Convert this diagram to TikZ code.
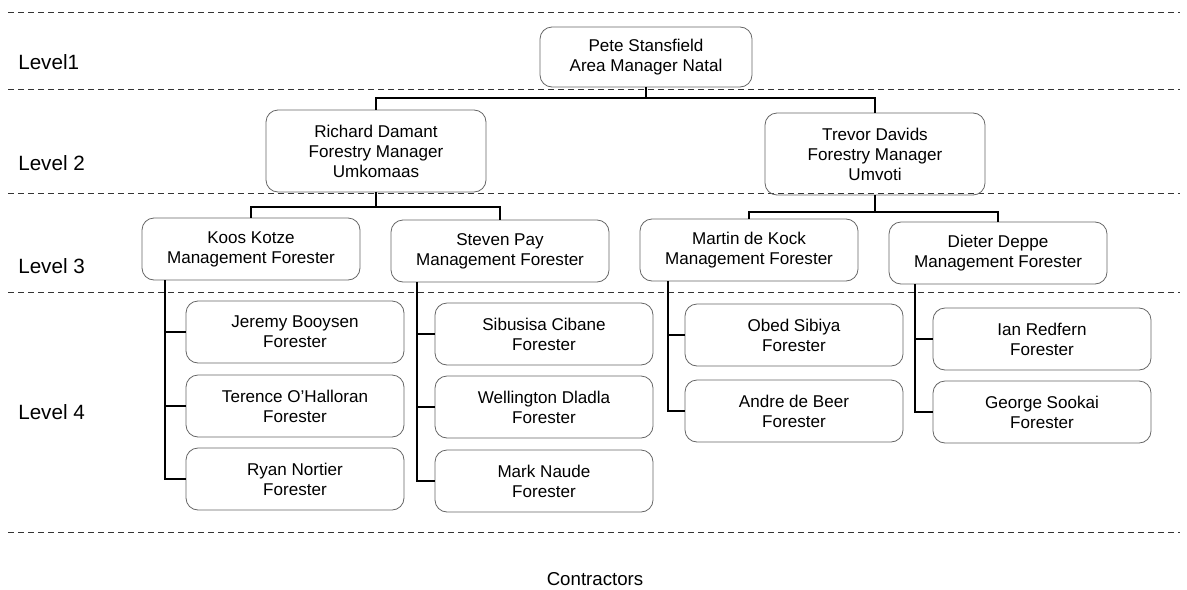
\documentclass[tikz,border=0pt]{standalone}
\usepackage{fontspec}
\setmainfont{Liberation Sans}
\begin{document}
\begin{tikzpicture}[x=0.75pt,y=-0.75pt,
  divider/.style={draw=black!80, line width=0.7pt, dash pattern=on 4.5pt off 3pt},
  levellabel/.style={anchor=west, inner sep=0pt, font=\fontsize{15.5}{18}\selectfont},
  person/.style={draw=black!60, line width=0.6pt, rounded corners=9pt, align=center,
    inner sep=0pt, font=\fontsize{12.8}{15}\selectfont},
  topbox/.style={person, minimum width=212*0.75pt, minimum height=60*0.75pt},
  mgrbox/.style={person, minimum width=220*0.75pt, minimum height=82*0.75pt},
  mfbox/.style={person, minimum width=218*0.75pt, minimum height=62*0.75pt},
  fbox/.style={person, minimum width=218*0.75pt, minimum height=62*0.75pt},
  link/.style={draw=black, line width=0.9pt}
]
\useasboundingbox[fill=white] (0,0) rectangle (1187,589);

% level dividers
\foreach \yy in {12,89,193,292,532}
  \draw[divider] (8,\yy) -- (1180,\yy);

% level labels
\node[levellabel] (l1) at (18,62)  {Level1};
\node[levellabel] (l2) at (18,163) {Level 2};
\node[levellabel] (l3) at (18,266) {Level 3};
\node[levellabel] (l4) at (18,412) {Level 4};
\node[font=\fontsize{14}{16}\selectfont] (contr) at (595,579) {Contractors};

% level 1
\node[topbox] (pete) at (646,57) {Pete Stansfield\\Area Manager Natal};

% level 2
\node[mgrbox] (rich) at (376,151) {Richard Damant\\Forestry Manager\\Umkomaas};
\node[mgrbox] (trev) at (875,154) {Trevor Davids\\Forestry Manager\\Umvoti};

% level 3
\node[mfbox] (koos)   at (251,249) {Koos Kotze\\Management Forester};
\node[mfbox] (steven) at (500,251) {Steven Pay\\Management Forester};
\node[mfbox] (martin) at (749,250) {Martin de Kock\\Management Forester};
\node[mfbox] (dieter) at (998,253) {Dieter Deppe\\Management Forester};

% level 4
\node[fbox] (jeremy)  at (295,332) {Jeremy Booysen\\Forester};
\node[fbox] (terence) at (295,406) {Terence O'Halloran\\Forester};
\node[fbox] (ryan)    at (295,479) {Ryan Nortier\\Forester};
\node[fbox] (sibu)    at (544,334) {Sibusisa Cibane\\Forester};
\node[fbox] (well)    at (544,407) {Wellington Dladla\\Forester};
\node[fbox] (mark)    at (544,481) {Mark Naude\\Forester};
\node[fbox] (obed)    at (794,335) {Obed Sibiya\\Forester};
\node[fbox] (andre)   at (794,411) {Andre de Beer\\Forester};
\node[fbox] (ian)     at (1042,339) {Ian Redfern\\Forester};
\node[fbox] (george)  at (1042,412) {George Sookai\\Forester};

% junction points of the tree
\coordinate (j1) at (646,98);
\coordinate (j2) at (376,207);
\coordinate (j3) at (875,212);
\coordinate (kx) at (165,0);
\coordinate (sx) at (417,0);
\coordinate (mx) at (668,0);
\coordinate (dx) at (915,0);

% level 1 -> level 2
\draw[link] (pete.south) -- (j1);
\draw[link] (rich.north) |- (j1) -| (trev.north);

% level 2 -> level 3
\draw[link] (rich.south) -- (j2);
\draw[link] (koos.north) |- (j2) -| (steven.north);
\draw[link] (trev.south) -- (j3);
\draw[link] (martin.north) |- (j3) -| (dieter.north);

% level 3 -> level 4
\draw[link] (koos.south -| kx) |- (ryan.west);
\draw[link] (kx |- jeremy.west) -- (jeremy.west);
\draw[link] (kx |- terence.west) -- (terence.west);

\draw[link] (steven.south -| sx) |- (mark.west);
\draw[link] (sx |- sibu.west) -- (sibu.west);
\draw[link] (sx |- well.west) -- (well.west);

\draw[link] (martin.south -| mx) |- (andre.west);
\draw[link] (mx |- obed.west) -- (obed.west);

\draw[link] (dieter.south -| dx) |- (george.west);
\draw[link] (dx |- ian.west) -- (ian.west);
\end{tikzpicture}
\end{document}
